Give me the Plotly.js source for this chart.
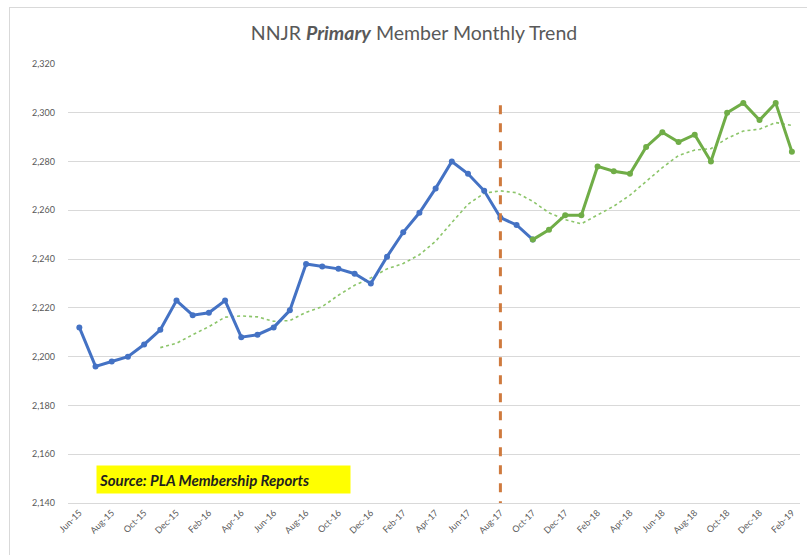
<!DOCTYPE html>
<html>
<head>
<meta charset="utf-8">
<script src="https://cdn.plot.ly/plotly-3.0.1.min.js"></script>
<style>
html,body{margin:0;padding:0;background:#fff;overflow:hidden;}
#wrap{position:relative;width:807px;height:555px;}
#chart{position:absolute;left:0;top:0;width:807px;height:555px;}
#frame{position:absolute;left:9px;top:7px;width:820px;height:570px;border:1px solid #d9d9d9;pointer-events:none;}
</style>
</head>
<body>
<div id="wrap"><div id="chart"></div><div id="frame"></div></div>
<script>
// Month labels (one per data point, Jun-15 .. Feb-19)
const months = ["Jun-15","Jul-15","Aug-15","Sep-15","Oct-15","Nov-15","Dec-15","Jan-16","Feb-16","Mar-16","Apr-16","May-16",
  "Jun-16","Jul-16","Aug-16","Sep-16","Oct-16","Nov-16","Dec-16","Jan-17","Feb-17","Mar-17","Apr-17","May-17",
  "Jun-17","Jul-17","Aug-17","Sep-17","Oct-17","Nov-17","Dec-17","Jan-18","Feb-18","Mar-18","Apr-18","May-18",
  "Jun-18","Jul-18","Aug-18","Sep-18","Oct-18","Nov-18","Dec-18","Jan-19","Feb-19"];

// Blue series: Jun-15 .. Oct-17
const blueValues = [2212,2196,2198,2200,2205,2211,2223,2217,2218,2223,2208,2209,2212,2219,2238,2237,2236,2234,2230,2241,2251,2259,2269,2280,2275,2268,2257,2254,2248];
// Green series: Oct-17 .. Feb-19
const greenValues = [2248,2252,2258,2258,2278,2276,2275,2286,2292,2288,2291,2280,2300,2304,2297,2304,2284];
// Dotted trend line (6-month moving average as drawn), Nov-15 .. Feb-19
const trendValues = [2203.7,2205.5,2209.0,2212.3,2216.2,2216.7,2216.3,2214.5,2214.8,2218.2,2220.5,2225.2,2229.3,2232.3,2236.0,
  2238.2,2241.8,2247.3,2255.0,2262.5,2267.0,2268.0,2267.2,2263.7,2259.0,2256.2,2254.5,2258.0,2261.7,2266.2,2271.8,2277.5,
  2282.5,2284.7,2285.3,2289.5,2292.5,2293.3,2296.0,2294.8];
const blueStart = 0, greenStart = 28, trendStart = 5;
const markerMonth = "Aug-17";
const yTicks = [2140,2160,2180,2200,2220,2240,2260,2280,2300,2320];

const idx = (start, arr) => arr.map((_, i) => start + i);
const tickIdx = months.map((_, i) => i).filter(i => i % 2 === 0);
const tickTxt = tickIdx.map(i => months[i]);

const traces = [
  {x: idx(trendStart, trendValues), y: trendValues, type: 'scatter', mode: 'lines',
   line: {color: '#8cc56a', width: 1.6, dash: 'dot'}, hoverinfo: 'skip', showlegend: false},
  {x: idx(blueStart, blueValues), y: blueValues, type: 'scatter', mode: 'lines+markers',
   line: {color: '#4472c4', width: 3}, marker: {color: '#4472c4', size: 6}, showlegend: false},
  {x: idx(greenStart, greenValues), y: greenValues, type: 'scatter', mode: 'lines+markers',
   line: {color: '#70ad47', width: 3}, marker: {color: '#70ad47', size: 6}, showlegend: false}
];

const mIdx = months.indexOf(markerMonth);
const layout = {
  width: 807, height: 555,
  margin: {l: 68, r: 7, t: 64, b: 52},
  paper_bgcolor: '#ffffff', plot_bgcolor: '#ffffff',
  font: {family: 'Lato, "Open Sans", sans-serif', color: '#595959'},
  title: {text: 'NNJR <b><i>Primary</i></b> Member Monthly Trend', x: 0.513, xanchor: 'center', y: 0.94, yanchor: 'middle',
          font: {size: 19.5, color: '#595959', family: 'Lato, "Open Sans", sans-serif'}},
  xaxis: {range: [-0.7, 44.5], tickvals: tickIdx, ticktext: tickTxt, tickangle: -45,
          showgrid: false, zeroline: false, showline: true, linecolor: '#d9d9d9', linewidth: 1,
          ticks: '', tickfont: {size: 9, color: '#595959'}},
  yaxis: {range: [2140, 2320], tickvals: yTicks, tickformat: ',d', showgrid: true, gridcolor: '#d9d9d9', gridwidth: 1,
          zeroline: false, showline: false, ticks: '', ticklabelstandoff: 12,
          tickfont: {size: 9, color: '#595959'}},
  shapes: [
    {type: 'line', xref: 'x', yref: 'y', x0: mIdx, x1: mIdx, y0: 2137, y1: 2304,
     line: {color: '#cf7a3e', width: 3, dash: 'dash'}}
  ],
  annotations: [
    {text: '<b><i>Source: PLA Membership Reports</i></b>', xref: 'paper', yref: 'paper', x: 0.2124, y: 0.0535,
     xanchor: 'center', yanchor: 'middle', showarrow: false, bgcolor: '#ffff00', width: 249, height: 23, borderpad: 2,
     align: 'left', font: {size: 15, color: '#1f1f1f', family: 'Lato, "Open Sans", sans-serif'}}
  ]
};

Plotly.newPlot('chart', traces, layout, {displayModeBar: false, staticPlot: true});
</script>
</body>
</html>
